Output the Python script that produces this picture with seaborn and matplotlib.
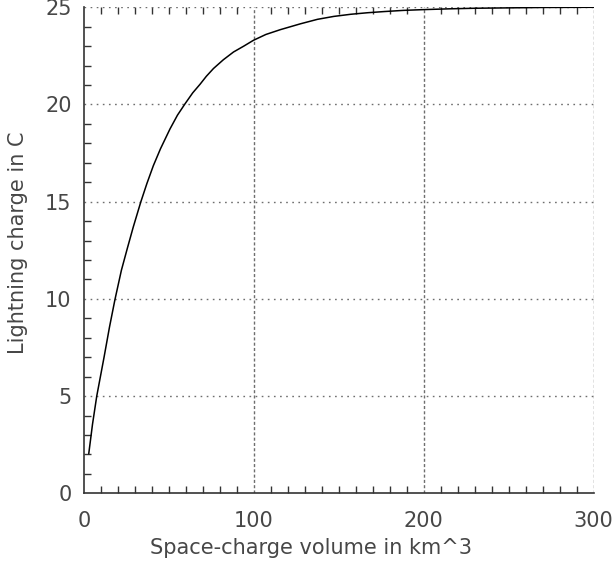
import matplotlib
matplotlib.use("Agg")
import matplotlib.pyplot as plt
import pandas as pd
import seaborn as sns
from matplotlib.ticker import MultipleLocator

# values
volume = [2.8, 5.0, 7.5, 11.8, 15.0, 18.2, 22.0, 25.5, 29.0, 33.4, 37.0, 40.8,
          45.0, 50.6, 55.0, 59.5, 64.0, 68.3, 72.0, 76.2, 82.0, 88.0, 94.0,
          99.7, 107.0, 115.6, 127.4, 137.4, 147.0, 157.0, 167.0, 176.7, 188.0,
          200.0, 215.0, 230.0, 250.0, 270.0, 300.0]
charge = [2.04, 3.55, 5.0, 7.0, 8.55, 9.96, 11.47, 12.6, 13.7, 14.98, 15.93,
          16.85, 17.72, 18.74, 19.45, 20.04, 20.6, 21.04, 21.45, 21.85, 22.3,
          22.7, 23.0, 23.3, 23.6, 23.85, 24.15, 24.38, 24.53, 24.64, 24.72,
          24.78, 24.84, 24.88, 24.92, 24.95, 24.97, 24.99, 25.0]

x_ticks = [0, 100, 200, 300]
y_ticks = [0, 5, 10, 15, 20, 25]

df = pd.DataFrame({"volume": volume, "charge": charge})

sns.set_style("white")
plt.rcParams["font.family"] = ["DejaVu Sans"]
text_color = "#474747"

fig = plt.figure(figsize=(6.15, 5.64), dpi=100)
ax = fig.add_axes([0.1366, 0.1254, 0.8288, 0.8617])

sns.lineplot(data=df, x="volume", y="charge", color="black", linewidth=1.1,
             ax=ax, sort=False)

ax.set_xlim(0, 300)
ax.set_ylim(0, 25)

# grid lines act as major ticks
for gx in x_ticks[1:]:
    ax.axvline(gx, color="#6e6e6e", linewidth=1.0, linestyle=(0, (2.2, 1.6)), zorder=1)
for gy in y_ticks[1:]:
    ax.axhline(gy, color="#6e6e6e", linewidth=1.0, linestyle=(0, (1.2, 3.2)), zorder=1)

ax.set_xticks(x_ticks)
ax.set_yticks(y_ticks)
ax.xaxis.set_minor_locator(MultipleLocator(10))
ax.yaxis.set_minor_locator(MultipleLocator(1))
ax.tick_params(axis="both", which="major", length=0, labelsize=15,
               labelcolor=text_color)
ax.tick_params(axis="x", which="major", pad=13)
ax.tick_params(axis="y", which="major", pad=9)
ax.tick_params(axis="both", which="minor", direction="in", length=5,
               width=1.0, color="#333333")
ax.tick_params(axis="x", which="minor", top=True, bottom=True)
ax.tick_params(axis="y", which="minor", left=True, right=False)

for side in ["left", "bottom"]:
    ax.spines[side].set_color("#333333")
    ax.spines[side].set_linewidth(1.2)
for side in ["top", "right"]:
    ax.spines[side].set_visible(False)

ax.set_xlabel("Space-charge volume in km^3", fontsize=15, color=text_color)
ax.set_ylabel("Lightning charge in C", fontsize=15, color=text_color)
ax.xaxis.set_label_coords(0.445, -0.092)
ax.yaxis.set_label_coords(-0.11, 0.516)

fig.savefig("out.png", dpi=100)
plt.close(fig)
